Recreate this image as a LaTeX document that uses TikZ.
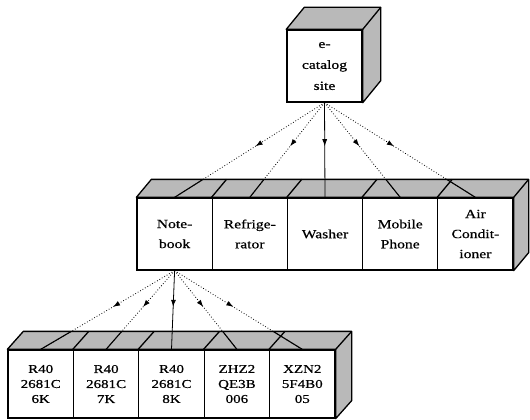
\documentclass[tikz,border=0pt]{standalone}
\usepackage{fontspec}
\setmainfont[FakeStretch=1.25, FakeBold=0.6]{Liberation Serif}
\usetikzlibrary{arrows.meta, decorations.markings}

\tikzset{
  front/.style={draw, line width=1.3pt, fill=white, inner sep=1pt, align=center},
  bigfront/.style={front, minimum width=75.2, minimum height=72, font=\fontsize{12.5}{20}\selectfont},
  smallfront/.style={front, minimum width=65.4, minimum height=68, font=\fontsize{12}{15}\selectfont},
  face/.style={draw, line width=1.3pt, fill=gray!55, line join=round},
  link/.style={dotted, line width=0.8pt, postaction={decorate},
    decoration={markings, mark=at position 0.46 with {\arrow{Latex[length=7pt,width=5pt]}}}},
  mainlink/.style={link, solid},
}

\begin{document}
\begin{tikzpicture}[x=1pt, y=-1pt]
  \useasboundingbox (0,0) rectangle (530,420);

  % Boxes:
  \node[bigfront, font=\fontsize{12.5}{21}\selectfont] (site) at (324.5, 66) {e-\\catalog\\site};

  \node[bigfront] (notebook) at (174.6, 234) {Note-\\book};
  \node[bigfront] (fridge) at (249.8, 234) {Refrige-\\rator};
  \node[bigfront] (washer) at (325.0, 234) {Washer};
  \node[bigfront] (phone) at (400.2, 234) {Mobile\\Phone};
  \node[bigfront] (aircon) at (475.4, 234) {Air\\Condit-\\ioner};

  \node[smallfront] (nbA) at (40.7, 384) {R40\\2681C\\6K};
  \node[smallfront] (nbB) at (106.1, 384) {R40\\2681C\\7K};
  \node[smallfront] (nbC) at (171.5, 384) {R40\\2681C\\8K};
  \node[smallfront] (nbD) at (236.9, 384) {ZHZ2\\QE3B\\006};
  \node[smallfront] (nbE) at (302.3, 384) {XZN2\\5F4B0\\05};

  % Top and side faces:
  \draw[face] (site.north west) -- ++(18,-22) -- ([shift={(18,-22)}]site.north east)
    -- ([shift={(18,-22)}]site.south east) -- (site.south east) -- (site.north east) -- cycle;
  \draw[line width=1.3pt] (site.north east) -- ++(18,-22);

  \draw[face] (notebook.north west) -- ++(15,-18) -- ([shift={(15,-18)}]aircon.north east)
    -- ([shift={(15,-18)}]aircon.south east) -- (aircon.south east) -- (aircon.north east) -- cycle;
  \draw[line width=1.3pt] (fridge.north west) -- ++(15,-18);
  \draw[line width=1.3pt] (washer.north west) -- ++(15,-18);
  \draw[line width=1.3pt] (phone.north west) -- ++(15,-18);
  \draw[line width=1.3pt] (aircon.north west) -- ++(15,-18);
  \draw[line width=1.3pt] (aircon.north east) -- ++(15,-18);

  \draw[face] (nbA.north west) -- ++(16,-18) -- ([shift={(16,-18)}]nbE.north east)
    -- ([shift={(16,-18)}]nbE.south east) -- (nbE.south east) -- (nbE.north east) -- cycle;
  \draw[line width=1.3pt] (nbB.north west) -- ++(16,-18);
  \draw[line width=1.3pt] (nbC.north west) -- ++(16,-18);
  \draw[line width=1.3pt] (nbD.north west) -- ++(16,-18);
  \draw[line width=1.3pt] (nbE.north west) -- ++(16,-18);
  \draw[line width=1.3pt] (nbE.north east) -- ++(16,-18);

  % Links:
  \draw[link] (site.south) -- (notebook.north);
  \draw[link] (site.south) -- (fridge.north);
  \draw[mainlink] (site.south) -- (washer.north);
  \draw[link] (site.south) -- (phone.north);
  \draw[link] (site.south) -- (aircon.north);

  \draw[link] (notebook.south) -- (nbA.north);
  \draw[link] (notebook.south) -- (nbB.north);
  \draw[mainlink] (notebook.south) -- (nbC.north);
  \draw[link] (notebook.south) -- (nbD.north);
  \draw[link] (notebook.south) -- (nbE.north);

  % Links across the top faces:
  \begin{scope}
    \clip (notebook.north west) -- ++(15,-18) -- ([shift={(15,-18)}]aircon.north east) -- (aircon.north east) -- cycle;
    \draw[line width=1.1pt] (site.south) -- (notebook.north);
    \draw[line width=1.1pt] (site.south) -- (fridge.north);
    \draw[line width=1.1pt] (site.south) -- (phone.north);
    \draw[line width=1.1pt] (site.south) -- (aircon.north);
  \end{scope}
  \begin{scope}
    \clip (nbA.north west) -- ++(16,-18) -- ([shift={(16,-18)}]nbE.north east) -- (nbE.north east) -- cycle;
    \draw[line width=1.1pt] (notebook.south) -- (nbA.north);
    \draw[line width=1.1pt] (notebook.south) -- (nbB.north);
    \draw[line width=1.1pt] (notebook.south) -- (nbD.north);
    \draw[line width=1.1pt] (notebook.south) -- (nbE.north);
  \end{scope}
\end{tikzpicture}
\end{document}
